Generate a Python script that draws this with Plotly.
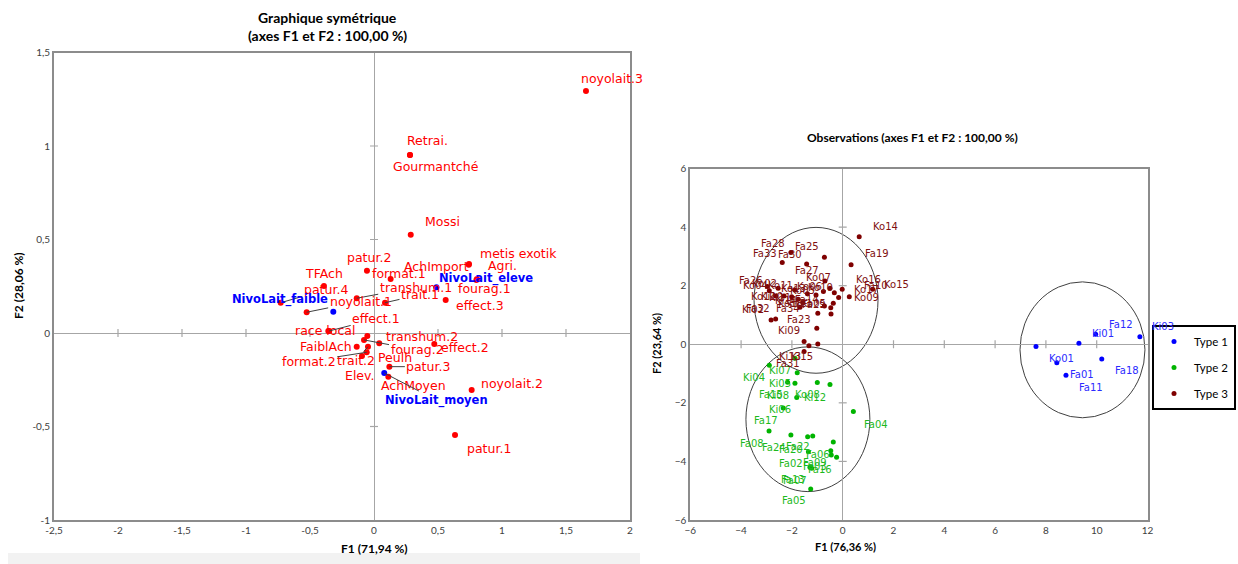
import plotly.graph_objects as go

W, H = 1238, 564

# ---------------- Left chart: Graphique symétrique ----------------
mod_labels = ["noyolait.3", "Retrai.", "Gourmantché", "Mossi", "metis exotik", "AchImport",
              "Agri.", "fourag.1", "effect.3", "transhum.1", "noyolait.1", "trait.1", "patur.2",
              "format.1", "TFAch", "patur.4", "race local", "effect.1", "transhum.2", "fourag.2",
              "Peulh", "FaiblAch", "trait.2", "format.2", "Elev.", "effect.2", "patur.3",
              "AchMoyen", "noyolait.2", "patur.1"]
mod_f1 = [1.656, 0.281, 0.281, 0.287, 0.742, 0.740, 0.805, 0.800, 0.560, -0.135, -0.526, 0.086,
          -0.055, 0.130, -0.391, -0.729, -0.357, -0.350, -0.052, -0.078, 0.041, -0.135, -0.047,
          -0.057, -0.094, 0.471, 0.120, 0.112, 0.763, 0.633]
mod_f2 = [1.294, 0.952, 0.952, 0.526, 0.369, 0.365, 0.289, 0.283, 0.176, 0.186, 0.111, 0.162,
          0.333, 0.289, 0.251, 0.162, 0.011, 0.011, -0.016, -0.037, -0.055, -0.073, -0.073,
          -0.103, -0.123, -0.059, -0.180, -0.234, -0.305, -0.545]

niv_labels = ["NivoLait_faible", "NivoLait_eleve", "NivoLait_moyen"]
niv_f1 = [-0.318, 0.488, 0.080]
niv_f2 = [0.114, 0.244, -0.214]

left_xticks = [-2.5, -2, -1.5, -1, -0.5, 0, 0.5, 1, 1.5, 2]
left_xtext = ["-2,5", "-2", "-1,5", "-1", "-0,5", "0", "0,5", "1", "1,5", "2"]
left_yticks = [-1, -0.5, 0, 0.5, 1, 1.5]
left_ytext = ["-1", "-0,5", "0", "0,5", "1", "1,5"]

# label placement (pixel offsets of label centre from the point, leader line flag)
left_label_pos = {
    "noyolait.3": (26, -13, False), "Retrai.": (18, -14, False), "Gourmantché": (26, 12, False),
    "Mossi": (32, -13, False), "metis exotik": (50, -11, False), "AchImport": (-32, 2, False),
    "Agri.": (25, -13, False), "fourag.1": (8, 8, False), "effect.3": (34, 5, False),
    "transhum.1": (59, -11, True), "noyolait.1": (54, -11, True), "trait.1": (35, -8, True),
    "patur.2": (2, -13, False), "format.1": (8, -5, False), "TFAch": (0, -13, False),
    "patur.4": (45, -13, True), "race local": (-3, 0, False), "effect.1": (47, -12, True),
    "transhum.2": (55, 1, False), "fourag.2": (53, 10, True), "Peulh": (16, 14, False),
    "FaiblAch": (-31, 0, False), "trait.2": (-12, 14, True), "format.2": (-58, 9, True),
    "Elev.": (-2, 19, False), "effect.2": (31, 3, False), "patur.3": (39, 0, True),
    "AchMoyen": (25, 9, False), "noyolait.2": (40, -7, False), "patur.1": (34, 14, False),
    "NivoLait_faible": (-53, -12, False), "NivoLait_eleve": (50, -9, False),
    "NivoLait_moyen": (52, 27, True),
}

# ---------------- Right chart: Observations ----------------
t1_labels = ["Ko01", "Ki01", "Fa12", "Ki03", "Fa18", "Fa01", "Fa11"]
t1_f1 = [7.61, 9.30, 9.96, 11.70, 10.20, 8.43, 8.79]
t1_f2 = [-0.08, 0.03, 0.34, 0.26, -0.50, -0.63, -1.06]

t2_labels = ["Ki04", "Ki07", "Ki05", "Fa15", "Ki08", "Ko08", "Ki12", "Ki06", "Fa04", "Fa17",
             "Fa08", "Fa24", "Fa20", "Fa22", "Fa06", "Fa02", "Fa09", "Fa03", "Fa16", "Fa13",
             "Fa07", "Fa05"]
t2_f1 = [-2.89, -1.88, -1.79, -2.17, -1.88, -1.00, -0.50, -1.81, 0.42, -2.34,
         -2.90, -2.04, -1.38, -1.18, -0.37, -1.35, -0.47, -0.45, -0.24, -1.29,
         -1.22, -1.26]
t2_f2 = [-0.72, -0.48, -0.97, -1.30, -1.33, -1.31, -1.37, -1.82, -2.30, -2.18,
         -2.96, -3.10, -3.16, -3.13, -3.34, -3.67, -3.64, -3.78, -3.86, -4.20,
         -4.23, -4.94]

t3_labels = ["Ko14", "Fa33", "Fa28", "Fa25", "Fa30", "Fa19", "Fa27", "Ko07", "Ko10", "Ko16",
             "Ko17", "Fa10", "Ko15", "Ko09", "Ko05", "Fa14", "Fa21", "Fa29", "Ko04", "Fa26",
             "Ko02", "Ko11", "Ko13", "Ko03", "Ko06", "Ko12", "Ki10", "Ki11", "Ki14", "Fa34",
             "Ko18", "Fa32", "Ki02", "Fa23", "Ki09", "Ki13", "Ki15", "Fa31"]
t3_f1 = [0.65, -2.38, -2.04, -0.72, -1.42, 0.33, -0.70, -0.50, -0.33, -0.02,
         -0.16, 0.26, 1.18, -0.37, -0.47, -0.72, -0.98, -0.46, -2.89, -2.97,
         -2.54, -1.88, -1.39, -1.05, -0.76, -2.63, -2.31, -2.01, -1.75, -1.68,
         -1.57, -2.82, -2.64, -1.02, -1.52, -1.33, -0.98, -1.52]
t3_f2 = [3.67, 2.79, 3.13, 2.97, 2.74, 2.71, 2.16, 1.91, 1.76, 1.88,
         1.60, 1.62, 1.88, 1.40, 1.25, 1.31, 1.06, 1.03, 1.83, 1.97,
         1.91, 1.85, 1.72, 1.68, 1.80, 1.65, 1.65, 1.62, 1.54, 1.26,
         1.42, 0.83, 0.86, 0.55, 0.09, -0.05, 0.01, -0.25]

# confidence ellipses: centre F1, centre F2, half-width, half-height
ell_cx = [9.44, -1.37, -1.05]
ell_cy = [-0.19, -2.56, 1.50]
ell_rx = [2.46, 2.44, 2.44]
ell_ry = [2.32, 2.47, 2.49]

right_xticks = [-6, -4, -2, 0, 2, 4, 6, 8, 10, 12]
right_yticks = [-6, -4, -2, 0, 2, 4, 6]

right_label_pos = {
    # type 1
    "Ko01": (26, 12), "Ki01": (24, -10), "Fa12": (25, -10), "Ki03": (23, -10),
    "Fa18": (25, 12), "Fa01": (25, 12), "Fa11": (25, 12),
    # type 2
    "Ki04": (-15, 12), "Ki07": (-15, 12), "Ki05": (-17, 11), "Fa15": (-17, 12),
    "Ki08": (-17, 12), "Ko08": (-10, 12), "Ki12": (-15, 13), "Ki06": (-17, 12),
    "Fa04": (23, 13), "Fa17": (-17, 12), "Fa08": (-17, 13), "Fa24": (-17, 12),
    "Fa20": (-17, 13), "Fa22": (-15, 11), "Fa06": (-15, 12), "Fa02": (-17, 12),
    "Fa09": (-16, 12), "Fa03": (-16, 12), "Fa16": (-17, 12), "Fa13": (-17, 12),
    "Fa07": (-17, 12), "Fa05": (-17, 12),
    # type 3
    "Ko14": (26, -10), "Fa33": (-17, -9), "Fa28": (-18, -9), "Fa25": (-17, -11),
    "Fa30": (-17, -9), "Fa19": (26, -11), "Fa27": (-18, -10), "Ko07": (-12, -11),
    "Ko10": (-14, -5), "Ko16": (26, -10), "Ko17": (28, -8), "Fa10": (27, -11),
    "Ko15": (24, -5), "Ko09": (33, -6), "Ko05": (-17, -4), "Fa14": (-17, -6),
    "Fa21": (-17, -10), "Fa29": (-17, -10), "Ko04": (-14, -5), "Fa26": (-16, -6),
    "Ko02": (-14, -5), "Ko11": (-14, -5), "Ko13": (-14, -5), "Ko03": (-14, -5),
    "Ko06": (-14, -5), "Ko12": (-12, 1), "Ki10": (-12, 1), "Ki11": (-12, 1),
    "Ki14": (-12, 1), "Fa34": (-12, 1), "Ko18": (-12, 1), "Fa32": (-13, -11),
    "Ki02": (-23, -10), "Fa23": (-18, -9), "Ki09": (-15, -11), "Ki13": (-19, 11),
    "Ki15": (-16, 13), "Fa31": (-16, 12),
}

# ---------------- styling ----------------
RED = "#FF0000"
BLUE = "#0000FF"
GREEN = "#00B400"
DARKRED = "#7F0000"
FRAME = "#8C8C8C"
ZERO = "#A6A6A6"
TICKFONT = dict(family="Lato", size=10, color="#404040")

# pixel geometry of plot areas
L_X0, L_X1 = 54, 630
L_Y0, L_Y1 = 52.5, 520
R_X0, R_X1 = 690.3, 1147.5
R_Y0, R_Y1 = 168.5, 520


def dom_x(a, b):
    return [a / W, b / W]


def dom_y(top, bottom):
    return [1 - bottom / H, 1 - top / H]


fig = go.Figure()

fig.add_trace(go.Scatter(x=mod_f1, y=mod_f2, mode="markers", xaxis="x", yaxis="y",
                         marker=dict(color=RED, size=6), showlegend=False,
                         hovertext=mod_labels))
fig.add_trace(go.Scatter(x=niv_f1, y=niv_f2, mode="markers", xaxis="x", yaxis="y",
                         marker=dict(color=BLUE, size=6), showlegend=False,
                         hovertext=niv_labels))

for name, lab, xs, ys, col in [("Type 1", t1_labels, t1_f1, t1_f2, BLUE),
                               ("Type 2", t2_labels, t2_f1, t2_f2, GREEN),
                               ("Type 3", t3_labels, t3_f1, t3_f2, DARKRED)]:
    fig.add_trace(go.Scatter(x=xs, y=ys, mode="markers", xaxis="x2", yaxis="y2", name=name,
                             legendgroup=name, marker=dict(color=col, size=5),
                             hovertext=lab))

annotations = []


def add_label(text, x, y, xref, yref, dx, dy, color, size, family, bold=False, leader=False):
    t = f"<b>{text}</b>" if bold else text
    f = dict(family=family, size=size, color=color)
    if leader:
        annotations.append(dict(x=x, y=y, xref=xref, yref=yref, text=t, font=f,
                                showarrow=True, ax=dx, ay=dy, arrowhead=0, arrowwidth=1,
                                arrowcolor="#3F3F3F", standoff=0, startstandoff=0,
                                xanchor="center", yanchor="middle"))
    else:
        annotations.append(dict(x=x, y=y, xref=xref, yref=yref, text=t, font=f,
                                showarrow=False, xshift=dx, yshift=-dy,
                                xanchor="center", yanchor="middle"))


for lab, xv, yv in zip(mod_labels, mod_f1, mod_f2):
    dx, dy, ld = left_label_pos[lab]
    add_label(lab, xv, yv, "x", "y", dx, dy, RED, 12.5, "DejaVu Sans", leader=ld)
for lab, xv, yv in zip(niv_labels, niv_f1, niv_f2):
    dx, dy, ld = left_label_pos[lab]
    add_label(lab, xv, yv, "x", "y", dx, dy, BLUE, 11.5, "DejaVu Sans", bold=True, leader=ld)

for labs, xs, ys, col in [(t1_labels, t1_f1, t1_f2, "#2B2BFF"),
                          (t2_labels, t2_f1, t2_f2, "#1DB91D"),
                          (t3_labels, t3_f1, t3_f2, "#7F1010")]:
    for lab, xv, yv in zip(labs, xs, ys):
        dx, dy = right_label_pos[lab]
        add_label(lab, xv, yv, "x2", "y2", dx, dy, col, 10, "DejaVu Sans")


def paper(px, py):
    return px / W, 1 - py / H


for txt, (px, py), rot, sz in [
    ("<b>Graphique symétrique</b>", (327, 18), 0, 14),
    ("<b>(axes F1 et F2 : 100,00 %)</b>", (327, 36), 0, 14),
    ("<b>F1 (71,94 %)</b>", (374, 548), 0, 12),
    ("<b>F2 (28,06 %)</b>", (18, 286), -90, 12),
    ("<b>Observations (axes F1 et F2 : 100,00 %)</b>", (913, 138), 0, 12),
    ("<b>F1 (76,36 %)</b>", (845, 546), 0, 11),
    ("<b>F2 (23,64 %)</b>", (656, 344), -90, 11),
]:
    xp, yp = paper(px, py)
    annotations.append(dict(x=xp, y=yp, xref="paper", yref="paper", text=txt, showarrow=False,
                            textangle=rot, xanchor="center", yanchor="middle",
                            font=dict(family="Lato", size=sz, color="#000000")))

shapes = []
# tick crosses on the zero axes
lxu = (L_X1 - L_X0) / (left_xticks[-1] - left_xticks[0])
lyu = (L_Y1 - L_Y0) / (left_yticks[-1] - left_yticks[0])
for xv in left_xticks[1:-1]:
    if xv != 0:
        shapes.append(dict(type="line", xref="x", yref="y", x0=xv, x1=xv, y0=-4 / lyu, y1=4 / lyu,
                           line=dict(color=ZERO, width=1.2)))
for yv in left_yticks[1:-1]:
    if yv != 0:
        shapes.append(dict(type="line", xref="x", yref="y", y0=yv, y1=yv, x0=-4 / lxu, x1=4 / lxu,
                           line=dict(color=ZERO, width=1.2)))
rxu = (R_X1 - R_X0) / (right_xticks[-1] - right_xticks[0])
ryu = (R_Y1 - R_Y0) / (right_yticks[-1] - right_yticks[0])
for xv in right_xticks[1:-1]:
    if xv != 0:
        shapes.append(dict(type="line", xref="x2", yref="y2", x0=xv, x1=xv, y0=-4 / ryu, y1=4 / ryu,
                           line=dict(color=ZERO, width=1.2)))
for yv in right_yticks[1:-1]:
    if yv != 0:
        shapes.append(dict(type="line", xref="x2", yref="y2", y0=yv, y1=yv, x0=-4 / rxu, x1=4 / rxu,
                           line=dict(color=ZERO, width=1.2)))

for cx, cy, rx, ry in zip(ell_cx, ell_cy, ell_rx, ell_ry):
    shapes.append(dict(type="circle", xref="x2", yref="y2", x0=cx - rx, x1=cx + rx,
                       y0=cy - ry, y1=cy + ry, line=dict(color="#404040", width=1),
                       layer="below"))

# light grey strip at the bottom of the left panel
shapes.append(dict(type="rect", xref="paper", yref="paper", x0=8 / W, x1=640 / W,
                   y0=0, y1=1 - 553 / H, fillcolor="#F2F2F2", line=dict(width=0), layer="below"))

axis_common = dict(showgrid=False, zeroline=True, zerolinecolor=ZERO, zerolinewidth=1.2,
                   showline=True, mirror=True, linecolor=FRAME, linewidth=2, ticks="",
                   tickfont=TICKFONT, fixedrange=True, automargin=False)

fig.update_layout(
    width=W, height=H, autosize=False,
    margin=dict(l=0, r=0, t=0, b=0, autoexpand=False),
    paper_bgcolor="white", plot_bgcolor="white",
    xaxis=dict(domain=dom_x(L_X0, L_X1), range=[left_xticks[0], left_xticks[-1]],
               tickvals=left_xticks, ticktext=left_xtext, anchor="y", **axis_common),
    yaxis=dict(domain=dom_y(L_Y0, L_Y1), range=[left_yticks[0], left_yticks[-1]],
               tickvals=left_yticks, ticktext=left_ytext, anchor="x", **axis_common),
    xaxis2=dict(domain=dom_x(R_X0, R_X1), range=[right_xticks[0], right_xticks[-1]],
                tickvals=right_xticks, anchor="y2", **axis_common),
    yaxis2=dict(domain=dom_y(R_Y0, R_Y1), range=[right_yticks[0], right_yticks[-1]],
                tickvals=right_yticks, anchor="x2", **axis_common),
    legend=dict(x=1236 / W, y=1 - 325 / H, xanchor="right", yanchor="top",
                bordercolor="#000000", borderwidth=2, bgcolor="white",
                font=dict(family="Lato", size=11.5, color="#000000"),
                itemwidth=30, tracegroupgap=7),
    annotations=annotations,
    shapes=shapes,
)

fig.write_html("out.html", config={"displayModeBar": False},
               post_script="document.body.style.margin='0';document.body.style.overflow='hidden';")
